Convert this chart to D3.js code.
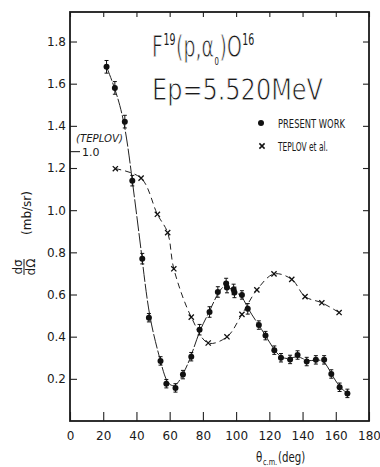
<!DOCTYPE html>
<html>
<head>
<meta charset="utf-8">
<script src="https://cdn.jsdelivr.net/npm/d3@7"></script>
<style>
  body { margin: 0; background: #fff; }
  svg text { fill: #1a1a1a; font-family: "DejaVu Sans", sans-serif; }
</style>
</head>
<body>
<svg id="chart"></svg>
<script>
// angle ticks and cross-section ticks
var xTicks = [0, 20, 40, 60, 80, 100, 120, 140, 160, 180];
var yTicks = [0.2, 0.4, 0.6, 0.8, 1.0, 1.2, 1.4, 1.6, 1.8];

// present work (mb/sr)
var presentAngle = [22, 27, 33, 37.5, 43.5, 47.5, 54.5, 58, 63.5, 68, 73, 78, 84, 89, 94, 94.5, 98.5, 99, 103.5, 107, 113.7, 117.7, 123, 127, 132.5, 137, 142.5, 148, 153, 157.3, 162.3, 167];
var presentValue = [1.68, 1.58, 1.42, 1.14, 0.77, 0.49, 0.285, 0.177, 0.157, 0.22, 0.305, 0.433, 0.517, 0.612, 0.652, 0.633, 0.624, 0.61, 0.598, 0.532, 0.455, 0.405, 0.336, 0.30, 0.292, 0.313, 0.282, 0.29, 0.29, 0.223, 0.16, 0.131];
var presentError = [0.03, 0.03, 0.03, 0.025, 0.025, 0.02, 0.02, 0.02, 0.02, 0.02, 0.02, 0.025, 0.025, 0.025, 0.025, 0.025, 0.025, 0.025, 0.02, 0.025, 0.02, 0.02, 0.02, 0.02, 0.02, 0.02, 0.02, 0.02, 0.02, 0.02, 0.02, 0.02];

// Teplov et al. (own relative units, 1.0 sits at 1.28 mb/sr)
var teplovOne = 1.28;
var teplovAngle = [27.3, 42.8, 52.6, 58.8, 62.5, 73, 83.2, 94.5, 103.5, 112.5, 122.8, 133.5, 141.5, 151.6, 162];
var teplovValue = [0.935, 0.900, 0.766, 0.698, 0.564, 0.385, 0.289, 0.312, 0.395, 0.486, 0.545, 0.525, 0.461, 0.438, 0.402];

var present = presentAngle.map(function(a, i){
	return {angle: a, value: presentValue[i], err: presentError[i]};
});
var teplov = teplovAngle.map(function(a, i){
	return {angle: a, value: teplovValue[i]};
});

var margin = {top: 12, right: 11, bottom: 46, left: 70},
    width = 380 - margin.left - margin.right,
    height = 467 - margin.top - margin.bottom;

var svg = d3.select("#chart")
	.attr("width", width + margin.left + margin.right)
	.attr("height", height + margin.top + margin.bottom)
	.append("g")
	.attr("transform", "translate(" + margin.left + "," + margin.top + ")");

var x = d3.scaleLinear().domain([0, 180]).range([0, width]);
var y = d3.scaleLinear().domain([0, 1.94]).range([height, 0]);
var yT = d3.scaleLinear().domain([0, 1]).range([y(0), y(teplovOne)]);

// axes, ticks point inward
svg.append("g")
	.attr("class", "y axis")
	.call(d3.axisLeft(y).tickValues(yTicks).tickSize(-7).tickPadding(4).tickFormat(d3.format(".1f")));
svg.append("g")
	.attr("class", "y axis right")
	.attr("transform", "translate(" + width + ",0)")
	.call(d3.axisRight(y).tickValues(yTicks).tickSize(-6).tickFormat(""));
svg.append("g")
	.attr("class", "x axis")
	.attr("transform", "translate(0," + height + ")")
	.call(d3.axisBottom(x).tickValues(xTicks).tickSize(-9).tickPadding(10).tickFormat(d3.format("d")));
svg.append("g")
	.attr("class", "x axis top")
	.call(d3.axisTop(x).tickValues(xTicks).tickSize(-5).tickFormat(""));
svg.append("g")
	.attr("class", "teplov axis")
	.call(d3.axisLeft(yT).tickValues([1]).tickSize(-10).tickFormat(""));

svg.selectAll(".axis .domain").remove();
svg.selectAll(".axis line").attr("stroke", "#222").attr("stroke-width", 1.1);
svg.selectAll(".axis text")
	.style("font-size", "12px")
	.style("font-family", "DejaVu Sans")
	.attr("fill", "#1a1a1a");

svg.append("rect")
	.attr("width", width)
	.attr("height", height)
	.attr("fill", "none")
	.attr("stroke", "#1a1a1a")
	.attr("stroke-width", 1.8);

// teplov scale label
svg.append("text")
	.attr("x", 12)
	.attr("y", yT(1) + 5)
	.style("font-size", "11px")
	.text("1.0");
svg.append("text")
	.attr("x", 6)
	.attr("y", yT(1) - 9)
	.attr("textLength", 47)
	.attr("lengthAdjust", "spacingAndGlyphs")
	.style("font-size", "10px")
	.style("font-style", "italic")
	.text("(TEPLOV)");

// curves
var presentLine = d3.line()
	.x(function(d){ return x(d.angle); })
	.y(function(d){ return y(d.value); })
	.curve(d3.curveBasis);
var teplovLine = d3.line()
	.x(function(d){ return x(d.angle); })
	.y(function(d){ return yT(d.value); })
	.curve(d3.curveCatmullRom.alpha(0.5));

svg.append("path")
	.datum(present)
	.attr("d", presentLine)
	.attr("fill", "none")
	.attr("stroke", "#222")
	.attr("stroke-width", 1)
	.attr("stroke-dasharray", "15,2");
svg.append("path")
	.datum(teplov)
	.attr("d", teplovLine)
	.attr("fill", "none")
	.attr("stroke", "#222")
	.attr("stroke-width", 1)
	.attr("stroke-dasharray", "6,4");

// error bars and points
var bars = svg.selectAll(".err")
	.data(present)
	.enter()
	.append("g")
	.attr("class", "err")
	.attr("stroke", "#111")
	.attr("stroke-width", 1);
bars.append("line")
	.attr("x1", function(d){ return x(d.angle); })
	.attr("x2", function(d){ return x(d.angle); })
	.attr("y1", function(d){ return y(d.value + d.err); })
	.attr("y2", function(d){ return y(d.value - d.err); });
bars.append("line")
	.attr("x1", function(d){ return x(d.angle) - 2; })
	.attr("x2", function(d){ return x(d.angle) + 2; })
	.attr("y1", function(d){ return y(d.value + d.err); })
	.attr("y2", function(d){ return y(d.value + d.err); });
bars.append("line")
	.attr("x1", function(d){ return x(d.angle) - 2; })
	.attr("x2", function(d){ return x(d.angle) + 2; })
	.attr("y1", function(d){ return y(d.value - d.err); })
	.attr("y2", function(d){ return y(d.value - d.err); });

svg.selectAll(".dot")
	.data(present)
	.enter()
	.append("circle")
	.attr("class", "dot")
	.attr("cx", function(d){ return x(d.angle); })
	.attr("cy", function(d){ return y(d.value); })
	.attr("r", 3)
	.attr("fill", "#111");

var cross = function(cx, cy, s){
	return "M" + (cx - s) + "," + (cy - s) + "L" + (cx + s) + "," + (cy + s) +
		"M" + (cx - s) + "," + (cy + s) + "L" + (cx + s) + "," + (cy - s);
};
svg.selectAll(".cross")
	.data(teplov)
	.enter()
	.append("path")
	.attr("class", "cross")
	.attr("d", function(d){ return cross(x(d.angle), yT(d.value), 2.6); })
	.attr("stroke", "#111")
	.attr("stroke-width", 1.3)
	.attr("fill", "none");

// lays out pieces side by side, one text each, then squeezes to a width
function pieces(parts, tx, ty, w){
	var g = svg.append("g");
	var cursor = 0;
	parts.forEach(function(p){
		var t = g.append("text")
			.attr("x", cursor)
			.attr("y", p.dy)
			.style("font-size", p.size + "px")
			.text(p.t);
		if (p.size >= 20) t.attr("stroke", "#fff").attr("stroke-width", 0.9);
		cursor += t.node().getComputedTextLength() + 1;
	});
	g.attr("transform", "translate(" + tx + "," + ty + ") scale(" + (w / cursor) + ",1)");
}

// title
pieces([
	{t: "F", size: 30, dy: 0},
	{t: "19", size: 15, dy: -12},
	{t: "(p,α", size: 30, dy: 0},
	{t: "0", size: 11, dy: 8},
	{t: ")O", size: 30, dy: 0},
	{t: "16", size: 15, dy: -12}
], 82, 45, 103);

svg.append("text")
	.attr("x", 82)
	.attr("y", 88)
	.attr("textLength", 171)
	.attr("lengthAdjust", "spacingAndGlyphs")
	.attr("stroke", "#fff")
	.attr("stroke-width", 0.9)
	.style("font-size", "30px")
	.text("Ep=5.520MeV");

// legend
svg.append("circle")
	.attr("cx", 191)
	.attr("cy", 111)
	.attr("r", 3)
	.attr("fill", "#111");
svg.append("text")
	.attr("x", 208)
	.attr("y", 115.5)
	.attr("textLength", 67)
	.attr("lengthAdjust", "spacingAndGlyphs")
	.style("font-size", "12px")
	.text("PRESENT WORK");
svg.append("path")
	.attr("d", cross(192, 134, 2.6))
	.attr("stroke", "#111")
	.attr("stroke-width", 1.5);
svg.append("text")
	.attr("x", 208)
	.attr("y", 138.5)
	.attr("textLength", 50)
	.attr("lengthAdjust", "spacingAndGlyphs")
	.style("font-size", "12px")
	.text("TEPLOV et al.");

// axis titles
pieces([
	{t: "θ", size: 14, dy: 0},
	{t: "c.m.", size: 9, dy: 3},
	{t: "(deg)", size: 14, dy: 0}
], 186, height + 41, 50);

var yl = svg.append("g")
	.attr("transform", "translate(" + (-39) + "," + 201 + ") rotate(-90)");
yl.append("text")
	.attr("text-anchor", "middle")
	.style("font-size", "12px")
	.text("(mb/sr)");

var frac = svg.append("g")
	.attr("transform", "translate(" + (-46) + "," + 255 + ") rotate(-90)");
frac.append("text")
	.attr("text-anchor", "middle")
	.attr("y", -2)
	.style("font-size", "12px")
	.text("dσ");
frac.append("line")
	.attr("x1", -8).attr("x2", 8)
	.attr("stroke", "#1a1a1a");
frac.append("text")
	.attr("text-anchor", "middle")
	.attr("y", 11)
	.style("font-size", "12px")
	.text("dΩ");
</script>
</body>
</html>
